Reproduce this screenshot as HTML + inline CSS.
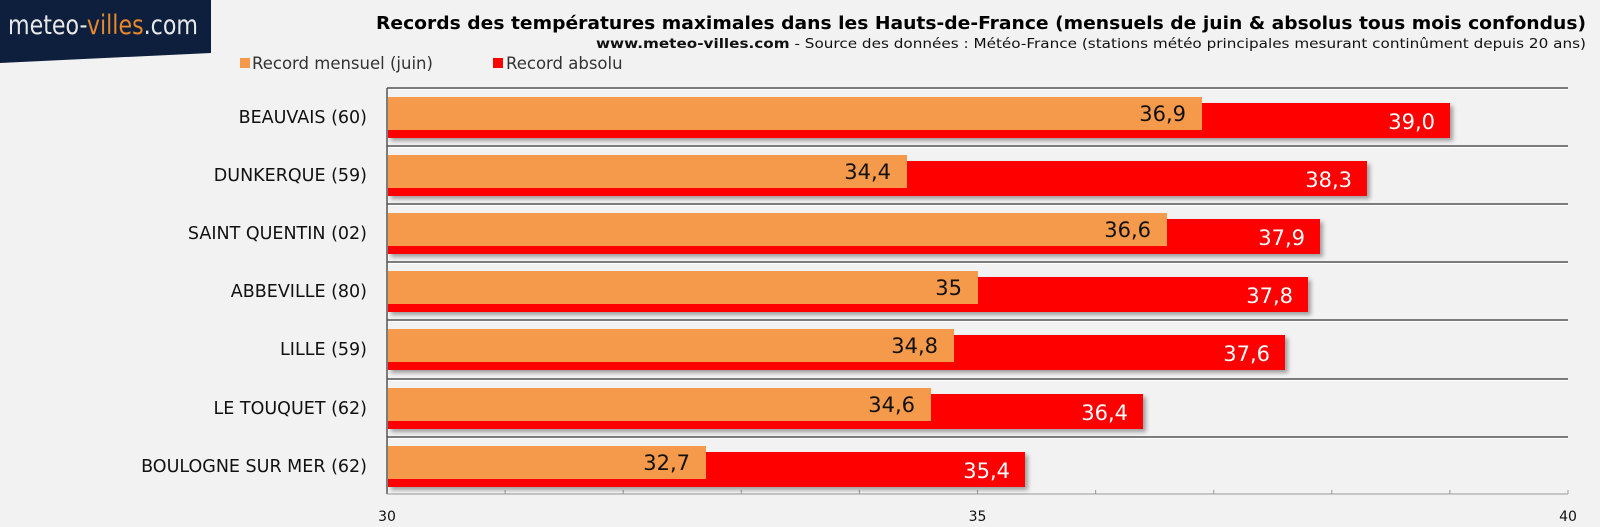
<!DOCTYPE html>
<html><head><meta charset="utf-8"><style>
html,body{margin:0;padding:0;background:#f2f2f2;}
svg{display:block;font-family:"Liberation Sans","DejaVu Sans",sans-serif;}
</style></head><body>
<svg width="1600" height="527" viewBox="0 0 1600 527" xmlns="http://www.w3.org/2000/svg">
<defs>
<filter id="sh" x="-5%" y="-20%" width="110%" height="150%"><feDropShadow dx="3" dy="3" stdDeviation="2" flood-color="#000" flood-opacity="0.35"/></filter>
</defs>
<rect width="1600" height="527" fill="#f2f2f2"/>
<polygon points="0,0 211,0 211,53 0,63" fill="#0d1f3c"/>
<text x="8" y="34" font-size="27" fill="#e8e8e8" font-family="DejaVu Sans, sans-serif" textLength="190" lengthAdjust="spacingAndGlyphs">meteo-<tspan fill="#e8882a">villes</tspan>.com</text>
<text x="1586" y="29" font-size="17.5" font-weight="bold" text-anchor="end" fill="#000" font-family="DejaVu Sans, sans-serif" textLength="1210" lengthAdjust="spacingAndGlyphs">Records des températures maximales dans les Hauts-de-France (mensuels de juin &amp; absolus tous mois confondus)</text>
<text x="1586" y="48" font-size="13.5" text-anchor="end" fill="#111" font-family="DejaVu Sans, sans-serif" textLength="990" lengthAdjust="spacingAndGlyphs"><tspan font-weight="bold">www.meteo-villes.com</tspan> - Source des données : Météo-France (stations météo principales mesurant continûment depuis 20 ans)</text>
<rect x="240" y="58" width="10" height="10" fill="#f5994a"/>
<text x="252" y="69" font-size="16.5" fill="#333" font-family="DejaVu Sans, sans-serif">Record mensuel (juin)</text>
<rect x="493" y="58" width="10" height="10" fill="#ff0000"/>
<text x="506" y="69" font-size="16.5" fill="#333" font-family="DejaVu Sans, sans-serif">Record absolu</text>
<g stroke="#555" stroke-width="1.5">
<line x1="387" y1="88" x2="1568" y2="88"/><line x1="387" y1="146" x2="1568" y2="146"/><line x1="387" y1="204" x2="1568" y2="204"/><line x1="387" y1="262" x2="1568" y2="262"/><line x1="387" y1="320" x2="1568" y2="320"/><line x1="387" y1="379" x2="1568" y2="379"/><line x1="387" y1="437" x2="1568" y2="437"/>
<line x1="387" y1="88" x2="387" y2="494"/>
</g>
<g stroke="#fff" stroke-width="1">
<line x1="388" y1="89.5" x2="1568" y2="89.5"/><line x1="388" y1="147.5" x2="1568" y2="147.5"/><line x1="388" y1="205.5" x2="1568" y2="205.5"/><line x1="388" y1="263.5" x2="1568" y2="263.5"/><line x1="388" y1="321.5" x2="1568" y2="321.5"/><line x1="388" y1="380.5" x2="1568" y2="380.5"/><line x1="388" y1="438.5" x2="1568" y2="438.5"/>
</g>
<line x1="387" y1="494" x2="1568" y2="494" stroke="#999" stroke-width="1"/>
<g stroke="#999" stroke-width="1">
<line x1="505.1" y1="490" x2="505.1" y2="494"/><line x1="623.2" y1="490" x2="623.2" y2="494"/><line x1="741.3" y1="490" x2="741.3" y2="494"/><line x1="859.4" y1="490" x2="859.4" y2="494"/><line x1="977.5" y1="490" x2="977.5" y2="494"/><line x1="1095.6" y1="490" x2="1095.6" y2="494"/><line x1="1213.7" y1="490" x2="1213.7" y2="494"/><line x1="1331.8" y1="490" x2="1331.8" y2="494"/><line x1="1449.9" y1="490" x2="1449.9" y2="494"/><line x1="1568" y1="490" x2="1568" y2="494"/>
</g>
<g font-size="14" fill="#111" text-anchor="middle" font-family="DejaVu Sans, sans-serif">
<text x="387" y="521">30</text><text x="977.5" y="521">35</text><text x="1568" y="521">40</text>
</g>
<g font-size="17.5" fill="#111" text-anchor="end" font-family="DejaVu Sans, sans-serif">
<text x="367" y="123">BEAUVAIS (60)</text>
<text x="367" y="181">DUNKERQUE (59)</text>
<text x="367" y="239">SAINT QUENTIN (02)</text>
<text x="367" y="297">ABBEVILLE (80)</text>
<text x="367" y="355">LILLE (59)</text>
<text x="367" y="414">LE TOUQUET (62)</text>
<text x="367" y="472">BOULOGNE SUR MER (62)</text>
</g>
<g filter="url(#sh)" fill="#ff0000">
<rect x="388" y="103" width="1062" height="35"/>
<rect x="388" y="161" width="979" height="35"/>
<rect x="388" y="219" width="932" height="35"/>
<rect x="388" y="277" width="920" height="35"/>
<rect x="388" y="335" width="897" height="35"/>
<rect x="388" y="394" width="755" height="35"/>
<rect x="388" y="452" width="637" height="35"/>
</g>
<g fill="#f5994a">
<rect x="388" y="97" width="814" height="33"/>
<rect x="388" y="155" width="519" height="33"/>
<rect x="388" y="213" width="779" height="33"/>
<rect x="388" y="271" width="590" height="33"/>
<rect x="388" y="329" width="566" height="33"/>
<rect x="388" y="388" width="543" height="33"/>
<rect x="388" y="446" width="318" height="33"/>
</g>
<g font-size="21" fill="#111" text-anchor="end" font-family="DejaVu Sans, sans-serif">
<text x="1186" y="121">36,9</text>
<text x="891" y="179">34,4</text>
<text x="1151" y="237">36,6</text>
<text x="962" y="295">35</text>
<text x="938" y="353">34,8</text>
<text x="915" y="412">34,6</text>
<text x="690" y="470">32,7</text>
</g>
<g font-size="21" fill="#fff" text-anchor="end" font-family="DejaVu Sans, sans-serif">
<text x="1435" y="129">39,0</text>
<text x="1352" y="187">38,3</text>
<text x="1305" y="245">37,9</text>
<text x="1293" y="303">37,8</text>
<text x="1270" y="361">37,6</text>
<text x="1128" y="420">36,4</text>
<text x="1010" y="478">35,4</text>
</g>
</svg>
</body></html>
